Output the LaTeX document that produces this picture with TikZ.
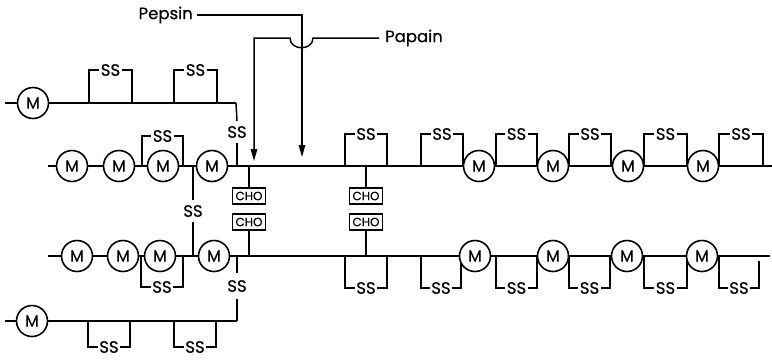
\documentclass[tikz,border=0pt]{standalone}
\usepackage{fontspec}
\setmainfont{Poppins}[FakeBold=0.5]
\usetikzlibrary{arrows.meta}
\newcommand\ssupbr[5]{%
  \draw[thinln] (#2,#4) -- (#2,#5) -- (#3,#5) -- (#3,#4);
  \node[sslab] (#1) at ({(#2+#3)/2},#5) {SS};}
\newcommand\ssdnbr[5]{%
  \draw[thinln] (#2,#4) -- (#2,#5) -- (#3,#5) -- (#3,#4);
  \node[sslab] (#1) at ({(#2+#3)/2},#5) {SS};}
\begin{document}
\begin{tikzpicture}[x=1pt,y=-1pt,
  chainln/.style={line width=2.5pt},
  thinln/.style={line width=1.5pt},
  mono/.style={circle,draw,line width=1.6pt,minimum size=31pt,inner sep=0pt,fill=white,font=\fontsize{16}{16}\selectfont},
  sslab/.style={font=\fontsize{16.5}{16.5}\selectfont,inner xsep=1.5pt,inner ysep=0pt,fill=white},
  vss/.style={sslab,inner ysep=5pt},
  chobox/.style={draw,line width=1.3pt,minimum width=33pt,minimum height=16pt,inner sep=0pt,fill=white,font=\fontsize{12}{12}\selectfont},
  lab/.style={font=\fontsize{16.5}{16.5}\selectfont,inner sep=0pt},
  arr/.style={thinln,-{Triangle[length=12pt,width=6.5pt]}}
]
\useasboundingbox (0,0) rectangle (772,360);

% enzyme labels and cleavage arrows
\node[lab,anchor=east] (pep) at (193,15) {Pepsin};
\node[lab,anchor=west] (pap) at (385,38) {Papain};
\coordinate (pepc) at (302,15);
\coordinate (peptip) at (302,157);
\coordinate (papr) at (313,38);
\coordinate (papl) at (290,38);
\coordinate (papc) at (254,38);
\coordinate (paptip) at (254,161);
\draw[arr] ([xshift=4pt]pep.east) -- (pepc) -- (peptip);
\draw[arr] ([xshift=-6pt]pap.west) -- (papr) .. controls (313,51) and (290,51) .. (papl) -- (papc) -- (paptip);

% top light chain
\coordinate (tls) at (5,103);
\node[mono] (tlm) at (33,103) {M};
\coordinate (tle) at (236,103);
\ssupbr{tlb1}{89}{132}{103}{70}
\ssupbr{tlb2}{174}{217}{103}{70}
\draw[chainln] (tls) -- (tlm) -- (tle);

% heavy chain 1
\coordinate (h1s) at (48,166);
\coordinate (h1e) at (772,166);
\ssupbr{h1b0}{142}{183}{166}{136}
\ssupbr{h1b1}{345}{387}{166}{134}
\ssupbr{h1b2}{421}{463}{166}{134}
\ssupbr{h1b3}{496}{537}{166}{134}
\ssupbr{h1b4}{569}{611}{166}{134}
\ssupbr{h1b5}{644}{687}{166}{134}
\ssupbr{h1b6}{719}{763}{166}{134}
\node[mono] (h1a) at (72,166) {M};
\node[mono] (h1b) at (119,166) {M};
\node[mono] (h1c) at (163,166) {M};
\node[mono] (h1d) at (212,166) {M};
\node[mono] (h1m) at (479,166) {M};
\node[mono] (h1n) at (553,166) {M};
\node[mono] (h1o) at (628,166) {M};
\node[mono] (h1p) at (703,166) {M};
\draw[chainln] (h1s) -- (h1a) -- (h1b) -- (h1c) -- (h1d) -- (h1m) -- (h1n) -- (h1o) -- (h1p) -- (h1e);

% heavy chain 2
\coordinate (h2s) at (48,256);
\coordinate (h2e) at (770,256);
\ssdnbr{h2b0}{141}{183}{256}{287}
\ssdnbr{h2b1}{345}{387}{256}{288}
\ssdnbr{h2b2}{421}{461}{256}{288}
\ssdnbr{h2b3}{496}{537}{256}{288}
\ssdnbr{h2b4}{569}{610}{256}{288}
\ssdnbr{h2b5}{644}{687}{256}{288}
\ssdnbr{h2b6}{719}{759}{261}{288}
\node[mono] (h2a) at (77,256) {M};
\node[mono] (h2b) at (123,256) {M};
\node[mono] (h2c) at (160,256) {M};
\node[mono] (h2d) at (214,256) {M};
\node[mono] (h2m) at (475,256) {M};
\node[mono] (h2n) at (553,256) {M};
\node[mono] (h2o) at (627,256) {M};
\node[mono] (h2p) at (702,256) {M};
\draw[chainln] (h2s) -- (h2a) -- (h2b) -- (h2c) -- (h2d) -- (h2m) -- (h2n) -- (h2o) -- (h2p) -- (h2e);
\draw[thinln] (719,256) -- (719,262);

% bottom light chain
\coordinate (bls) at (5,321);
\node[mono] (blm) at (32,321) {M};
\coordinate (ble) at (237,321);
\ssdnbr{blb1}{88}{130}{321}{347}
\ssdnbr{blb2}{174}{216}{321}{347}
\draw[chainln] (bls) -- (blm) -- (ble);

% inter-chain disulfides
\coordinate (ssAt) at (237,166);
\node[vss] (ssA) at (237,132) {SS};
\draw[thinln] (tle) -- (ssA.north);
\draw[thinln] (ssA.south) -- (ssAt);
\coordinate (ssBt) at (193,166);
\coordinate (ssBb) at (193,256);
\node[vss] (ssB) at (193,211) {SS};
\draw[thinln] (ssBt) -- (ssB.north);
\draw[thinln] (ssB.south) -- (ssBb);
\coordinate (ssCt) at (237,256);
\node[sslab,inner ysep=7pt] (ssC) at (237,286) {SS};
\draw[thinln] (ssCt) -- (ssC.north);
\draw[thinln] (ssC.south) -- (ble);

% carbohydrate
\node[chobox] (cho1) at (249,196) {CHO};
\node[chobox] (cho2) at (249,222) {CHO};
\node[chobox] (cho3) at (366,196) {CHO};
\node[chobox] (cho4) at (366,222) {CHO};
\draw[thinln] (cho1.north) -- (cho1.north |- h1e);
\draw[thinln] (cho2.south) -- (cho2.south |- h2e);
\draw[thinln] (cho3.north) -- (cho3.north |- h1e);
\draw[thinln] (cho4.south) -- (cho4.south |- h2e);
\end{tikzpicture}
\end{document}
